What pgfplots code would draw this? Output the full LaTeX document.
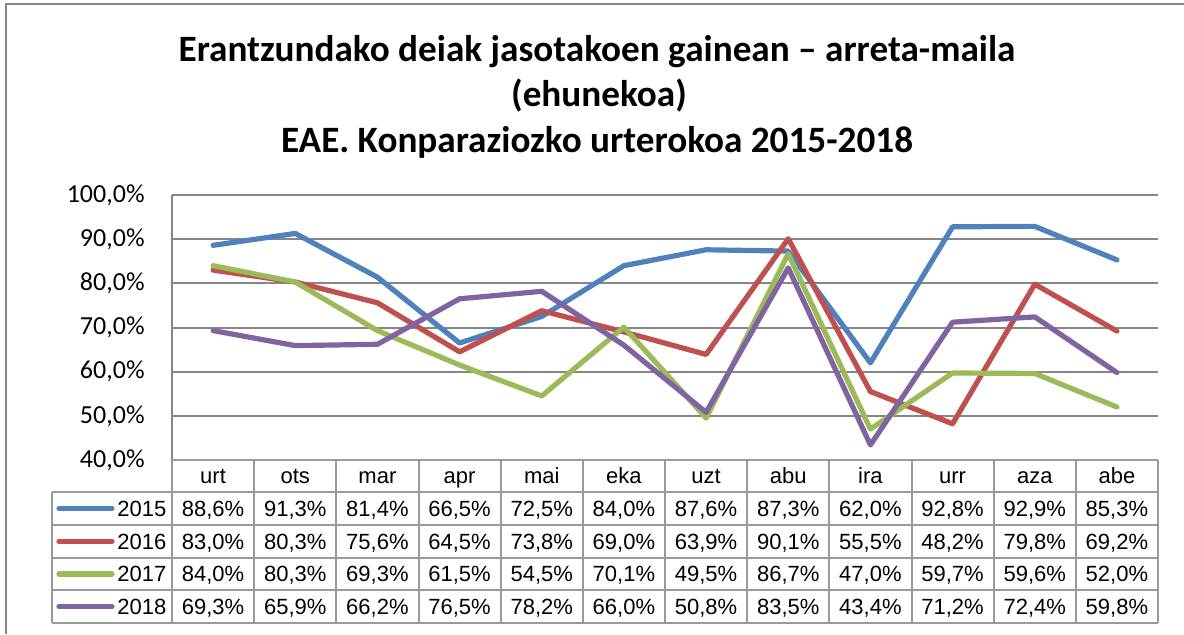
\documentclass[border=0pt]{standalone}
\usepackage{pgfplots}
\pgfplotsset{compat=1.18}
\usepackage{pgfplotstable}
\usepackage{fontspec}
\setmainfont{Liberation Sans}
\newfontfamily\calibri{Carlito}

\definecolor{c15}{HTML}{4F81BD}
\definecolor{c16}{HTML}{C0504D}
\definecolor{c17}{HTML}{9BBB59}
\definecolor{c18}{HTML}{8064A2}
\definecolor{gridc}{HTML}{868686}
\definecolor{tabc}{HTML}{9A9A9A}

\pgfplotstableread{
x y2015 y2016 y2017 y2018
0 88.6 83.0 84.0 69.3
1 91.3 80.3 80.3 65.9
2 81.4 75.6 69.3 66.2
3 66.5 64.5 61.5 76.5
4 72.5 73.8 54.5 78.2
5 84.0 69.0 70.1 66.0
6 87.6 63.9 49.5 50.8
7 87.3 90.1 86.7 83.5
8 62.0 55.5 47.0 43.4
9 92.8 48.2 59.7 71.2
10 92.9 79.8 59.6 72.4
11 85.3 69.2 52.0 59.8
}\data

\begin{document}
\begin{tikzpicture}
\path[use as bounding box] (0,0) rectangle (592pt,317pt);
% outer frame (top and left visible)
\draw[gridc, line width=1pt] (3pt,0) -- (3pt,314.9pt) -- (592pt,314.9pt);
% title
\begin{scope}[every node/.style={anchor=base, inner sep=0, font=\calibri\bfseries\fontsize{18.6pt}{22pt}\selectfont}]
\node at (298.5pt,286.5pt) {Erantzundako deiak jasotakoen gainean – arreta-maila};
\node at (299.5pt,264pt) {(ehunekoa)};
\node at (298.5pt,241pt) {EAE. Konparaziozko urterokoa 2015-2018};
\end{scope}

\begin{axis}[
  at={(86pt,87pt)}, anchor=south west,
  scale only axis, width=493pt, height=132.5pt,
  xmin=-0.5, xmax=11.5, ymin=40, ymax=100,
  axis x line=none, axis y line*=left,
  y axis line style={gridc, line width=1pt},
  ytick={40,50,...,100},
  yticklabels={{40,0\%},{50,0\%},{60,0\%},{70,0\%},{80,0\%},{90,0\%},{100,0\%}},
  yticklabel style={font=\calibri\fontsize{13pt}{15pt}\selectfont, inner sep=0pt, anchor=east, xshift=-13.5pt},
  ytick style={draw=none},
  ymajorgrids, grid style={gridc, line width=1pt},
  /pgf/number format/assume math mode=true,
  clip=false,
  every axis plot/.append style={line width=2.6pt, line join=round, line cap=round, no marks},
]
\addplot[c15] table[x=x,y=y2015]{\data};
\addplot[c16] table[x=x,y=y2016]{\data};
\addplot[c17] table[x=x,y=y2017]{\data};
\addplot[c18] table[x=x,y=y2018]{\data};
\end{axis}

% data table
\begin{scope}[tabc, line width=1pt]
\draw (86pt,87pt) -- (579pt,87pt);
\foreach \yy in {71,54.6,38.2,21.8,5.4} \draw (26pt,\yy pt) -- (579pt,\yy pt);
\draw (26pt,71pt) -- (26pt,5.4pt);
\foreach \k in {0,...,12} \draw ({86pt+41.0833pt*\k},87pt) -- ({86pt+41.0833pt*\k},5.4pt);
\end{scope}
\begin{scope}[font=\fontsize{11pt}{13pt}\selectfont]
\foreach \lab [count=\i from 0] in {urt,ots,mar,apr,mai,eka,uzt,abu,ira,urr,aza,abe}
  \node[anchor=base, inner sep=0] at ({86pt+41.0833pt*(\i+0.5)},75.2pt) {\lab};
\foreach \s/\c/\yc/\yr in {y2015/c15/62.8/2015, y2016/c16/46.4/2016, y2017/c17/30.0/2017, y2018/c18/13.6/2018}{
  \draw[\c, line width=2.6pt, line cap=round] (29.5pt,\yc pt) -- (56pt,\yc pt);
  \node[anchor=base west, inner sep=0] at (58.5pt,\yc pt-3.9pt) {\yr};
  \foreach \r in {0,...,11}{
    \pgfplotstablegetelem{\r}{\s}\of\data
    \node[anchor=base, inner sep=0] at ({86pt+41.0833pt*(\r+0.5)},\yc pt-3.9pt)
      {\pgfmathprintnumber[fixed,fixed zerofill,precision=1,use comma,assume math mode=true]{\pgfplotsretval}\%};
  }
}
\end{scope}
\end{tikzpicture}
\end{document}
